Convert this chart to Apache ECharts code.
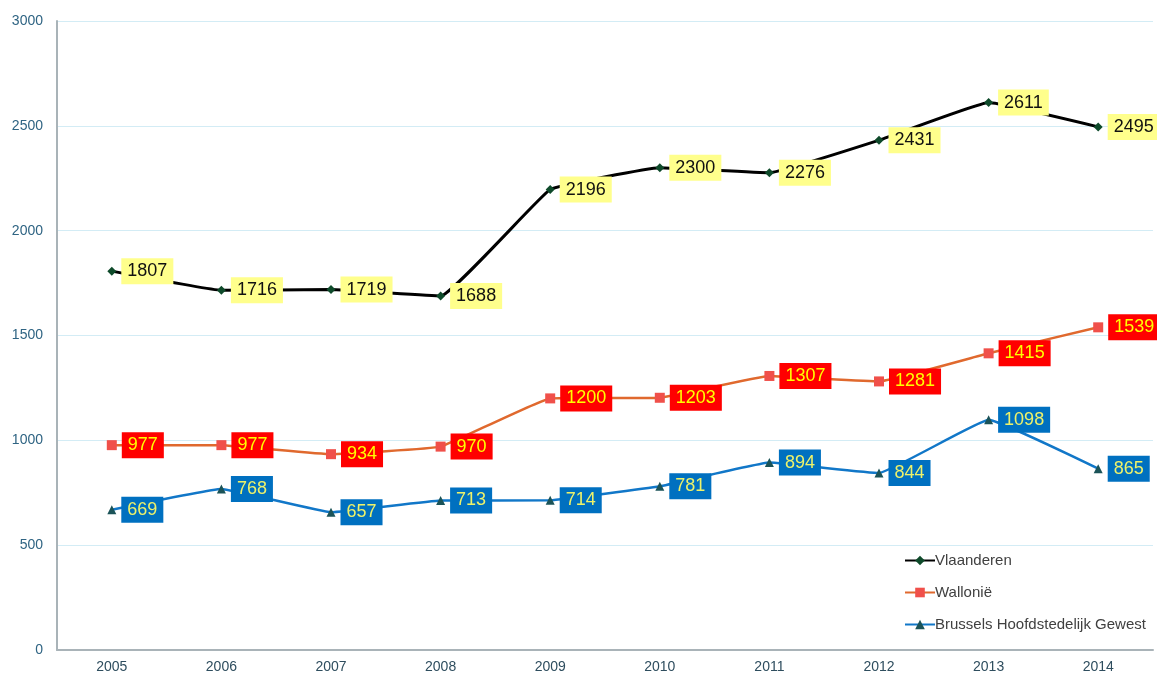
<!DOCTYPE html>
<html>
<head>
    <meta charset="utf-8">
    <title>Vlaanderen, Wallonië, Brussel 2005-2014</title>
    <script src="https://cdn.jsdelivr.net/npm/echarts@6/dist/echarts.min.js"></script>
    <style type="text/css">
        html, body { margin: 0; padding: 0; background: #fff; }
        #main { width: 1157px; height: 674px; }
    </style>
</head>
<body>
    <div id="main"></div>
    <script type="text/javascript">
        var years = ['2005', '2006', '2007', '2008', '2009', '2010', '2011', '2012', '2013', '2014'];
        var vlaanderen = [1807, 1716, 1719, 1688, 2196, 2300, 2276, 2431, 2611, 2495];
        var wallonie = [977, 977, 934, 970, 1200, 1203, 1307, 1281, 1415, 1539];
        var brussel = [669, 768, 657, 713, 714, 781, 894, 844, 1098, 865];

        var font = 'Liberation Sans, Arial, sans-serif';
        var myChart = echarts.init(document.getElementById('main'));

        // label box to the right of each point
        function boxLabel(bg, fg) {
            return {
                show: true,
                position: 'right',
                distance: 5,
                backgroundColor: bg,
                color: fg,
                fontSize: 18,
                fontFamily: font,
                padding: [3, 6, 3, 6],
                lineHeight: 20
            };
        }

        myChart.setOption({
            animation: false,
            grid: { left: 57, right: 4, top: 21, bottom: 24 },
            legend: {
                orient: 'vertical',
                left: 899,
                top: 548,
                itemGap: 17,
                itemWidth: 30,
                itemHeight: 12,
                textStyle: { color: '#404040', fontSize: 15, fontFamily: font, padding: [0, 0, 0, -5] },
                data: ['Vlaanderen', 'Wallonië', 'Brussels Hoofdstedelijk Gewest']
            },
            xAxis: {
                type: 'category',
                data: years,
                axisLine: { lineStyle: { color: '#A9B3B8', width: 2 } },
                axisTick: { show: false },
                axisLabel: { color: '#2E4D5E', fontSize: 14, margin: 10, fontFamily: font }
            },
            yAxis: {
                type: 'value',
                min: 0,
                max: 3000,
                interval: 500,
                axisLine: { show: true, lineStyle: { color: '#A9B3B8', width: 2 } },
                axisTick: { show: false },
                splitLine: { lineStyle: { color: '#D3ECF5', width: 1 } },
                axisLabel: {
                    color: '#2F6483', fontSize: 14, margin: 14, fontFamily: font,
                    formatter: function (v) { return String(v); }
                }
            },
            series: [{
                name: 'Vlaanderen',
                type: 'line',
                data: vlaanderen,
                smooth: 0.08,
                symbol: 'diamond',
                symbolSize: 9,
                itemStyle: { color: '#0E4A2A' },
                lineStyle: { color: '#000000', width: 3 },
                label: boxLabel('#FFFF8C', '#111111'),
                z: 3
            }, {
                name: 'Wallonië',
                type: 'line',
                data: wallonie,
                smooth: 0.08,
                symbol: 'rect',
                symbolSize: 10,
                itemStyle: { color: '#F0504A' },
                lineStyle: { color: '#E0692E', width: 2.5 },
                label: boxLabel('#FF0000', '#FFFF00'),
                z: 2
            }, {
                name: 'Brussels Hoofdstedelijk Gewest',
                type: 'line',
                data: brussel,
                smooth: 0.08,
                symbol: 'triangle',
                symbolSize: 9,
                itemStyle: { color: '#1B5358' },
                lineStyle: { color: '#1177C8', width: 2.5 },
                label: boxLabel('#0070C0', '#EEF26A'),
                z: 2
            }]
        });
    </script>
</body>
</html>
